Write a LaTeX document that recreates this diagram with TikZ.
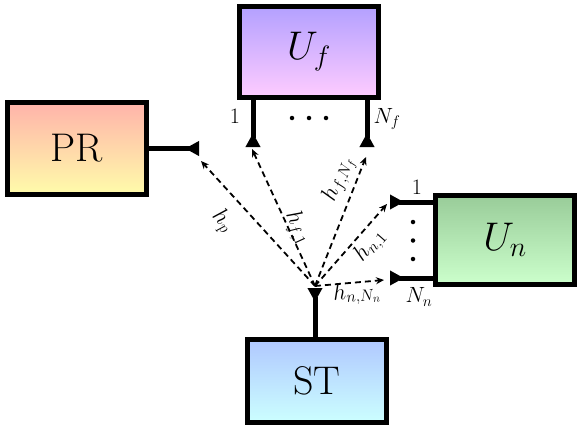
\RequirePackage{fix-cm}
\documentclass[tikz,border=0pt]{standalone}
\usetikzlibrary{arrows.meta}
\definecolor{prTop}{HTML}{FFB3AA}
\definecolor{prBot}{HTML}{FFFCAA}
\definecolor{ufTop}{HTML}{B3A0FF}
\definecolor{ufBot}{HTML}{FFCCFF}
\definecolor{unTop}{HTML}{99CC99}
\definecolor{unBot}{HTML}{CCFFCC}
\definecolor{stTop}{HTML}{B0C8FF}
\definecolor{stBot}{HTML}{CCFFFF}
\begin{document}
\begin{tikzpicture}[x=1pt,y=-1pt,
  box/.style={draw=black, line width=5pt, rectangle, inner sep=0pt, minimum width=139pt,
    font=\fontsize{40}{48}\selectfont},
  leg/.style={line width=5pt, -{Triangle[reversed,length=14pt,width=14pt]}},
  link/.style={line width=1.8pt, dash pattern=on 6pt off 4pt, -{Stealth[length=8pt,width=7pt]}},
  lbl/.style={font=\fontsize{23}{26}\selectfont, inner sep=1pt},
  plbl/.style={font=\fontsize{22}{24}\selectfont, inner sep=0pt},
  dotmark/.style={circle, fill=black, inner sep=0pt, minimum size=4.5pt}]
\useasboundingbox (0,0) rectangle (581,439);

\node[box, minimum height=92pt, top color=prTop, bottom color=prBot] (PR) at (77,148.5) {PR};
\node[box, minimum height=91pt, top color=ufTop, bottom color=ufBot] (Uf) at (309,52) {$U_f$};
\node[box, minimum height=89pt, top color=unTop, bottom color=unBot] (Un) at (505,240) {$U_n$};
\node[box, minimum height=83pt, top color=stTop, bottom color=stBot] (ST) at (317,381) {ST};

\coordinate (prA) at (199,148.5);
\coordinate (uf1) at (253,147);
\coordinate (ufN) at (367,147);
\coordinate (un1) at (390,202);
\coordinate (unN) at (390,278);
\coordinate (stA) at (315,288);

\draw[leg] (PR.east) -- (prA);
\draw[leg] (uf1 |- Uf.south) -- (uf1);
\draw[leg] (ufN |- Uf.south) -- (ufN);
\draw[leg] (un1 -| Un.west) -- (un1);
\draw[leg] (unN -| Un.west) -- (unN);
\draw[leg] (stA |- ST.north) -- (stA);

\node[plbl] (l1f) at (235,116) {1};
\node[plbl] (lNf) at (387,119) {$N_f$};
\node[plbl] (l1n) at (417,187) {1};
\node[plbl] (lNn) at (419,297) {$N_n$};
\node[dotmark] (hd1) at (292,118) {};
\node[dotmark] (hd2) at (309,118) {};
\node[dotmark] (hd3) at (326,118) {};
\node[dotmark] (vd1) at (413,222) {};
\node[dotmark] (vd2) at (413,240.5) {};
\node[dotmark] (vd3) at (413,259) {};

\coordinate (o) at (315,286);
\coordinate (ep) at (201,161);
\coordinate (ef1) at (252,149);
\coordinate (efN) at (366,157);
\coordinate (en1) at (387,204);
\coordinate (enN) at (384,280);

\draw[link] (o) -- node[lbl, sloped, pos=0.65, below=12pt] {$h_p$} (ep);
\draw[link] (o) -- node[lbl, sloped, pos=0.40, above=-5pt] {$h_{f,1}$} (ef1);
\draw[link] (o) -- node[lbl, sloped, pos=0.78, above=3pt] {$h_{f,N_f}$} (efN);
\draw[link] (o) -- node[lbl, sloped, pos=0.61, below=2pt] {$h_{n,1}$} (en1);
\draw[link] (o) -- node[lbl, sloped, pos=0.59, below=-2pt] {$h_{n,N_n}$} (enN);
\end{tikzpicture}
\end{document}
